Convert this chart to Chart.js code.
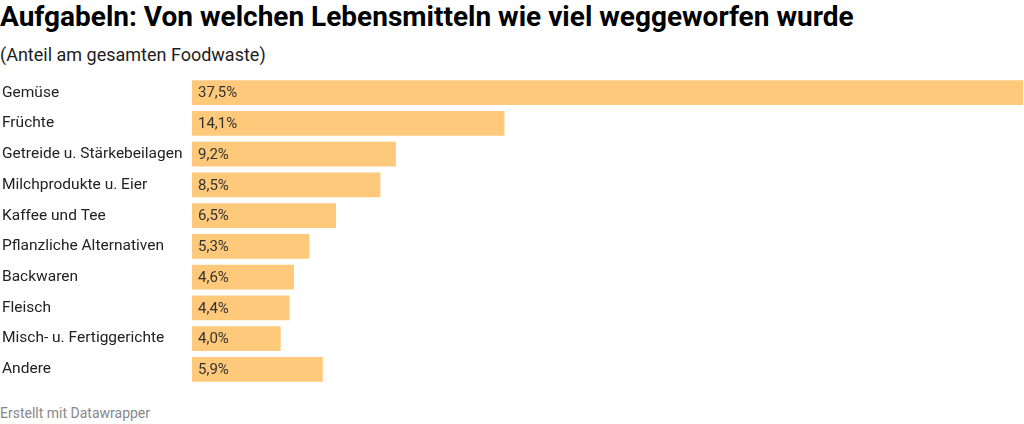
<!DOCTYPE html>
<html>
<head>
<meta charset="utf-8">
<script src="https://cdn.jsdelivr.net/npm/chart.js@4"></script>
<style>
    body { margin: 0; width: 1024px; height: 424px; overflow: hidden; background: #fff; font-family: Roboto, sans-serif; position: relative; }
    #title { position: absolute; left: 0; top: 0; font-size: 28px; font-weight: 700; color: #000; line-height: 34px; white-space: nowrap; }
    #subtitle { position: absolute; left: 0; top: 43px; font-size: 18px; color: #1d1d1d; line-height: 24px; }
    #footer { position: absolute; left: 0; top: 404px; font-size: 14px; color: #888; line-height: 18px; }
    #wrap { position: absolute; left: 0; top: 65px; width: 1024px; height: 332px; }
</style>
</head>
<body>
<div id="title">Aufgabeln: Von welchen Lebensmitteln wie viel weggeworfen wurde</div>
<div id="subtitle">(Anteil am gesamten Foodwaste)</div>
<div id="wrap"><canvas id="foodChart"></canvas></div>
<div id="footer">Erstellt mit Datawrapper</div>
<script>
// Daten
const categories = ['Gemüse', 'Früchte', 'Getreide u. Stärkebeilagen', 'Milchprodukte u. Eier', 'Kaffee und Tee',
    'Pflanzliche Alternativen', 'Backwaren', 'Fleisch', 'Misch- u. Fertiggerichte', 'Andere'];
const shares = [37.5, 14.1, 9.2, 8.5, 6.5, 5.3, 4.6, 4.4, 4.0, 5.9];

// Werte in die Balken schreiben
const valueLabels = {
    id: 'valueLabels',
    afterDatasetsDraw(chart) {
        const ctx = chart.ctx;
        const meta = chart.getDatasetMeta(0);
        ctx.save();
        ctx.font = '15px Roboto, sans-serif';
        ctx.fillStyle = '#333';
        ctx.textBaseline = 'middle';
        ctx.textAlign = 'left';
        meta.data.forEach((bar, i) => {
            const txt = shares[i].toFixed(1).replace('.', ',') + '%';
            ctx.fillText(txt, bar.base + 6, bar.y + 1);
        });
        ctx.restore();
    }
};

new Chart(document.getElementById('foodChart'), {
    type: 'bar',
    data: {
        labels: categories,
        datasets: [{
            data: shares,
            backgroundColor: '#fec97a',
            borderWidth: 0,
            barPercentage: 0.81,
            categoryPercentage: 1
        }]
    },
    options: {
        indexAxis: 'y',
        responsive: true,
        maintainAspectRatio: false,
        animation: false,
        layout: { padding: { left: 2, right: 1, top: 0, bottom: 0 } },
        plugins: { legend: { display: false }, tooltip: { enabled: false } },
        scales: {
            x: { display: false, min: 0, max: 37.5 },
            y: {
                grid: { display: false },
                border: { display: false },
                ticks: {
                    crossAlign: 'far',
                    color: '#222',
                    font: { family: 'Roboto, sans-serif', size: 15.5 }
                },
                afterFit(scale) { scale.width = 190; }
            }
        }
    },
    plugins: [valueLabels]
});
</script>
</body>
</html>
